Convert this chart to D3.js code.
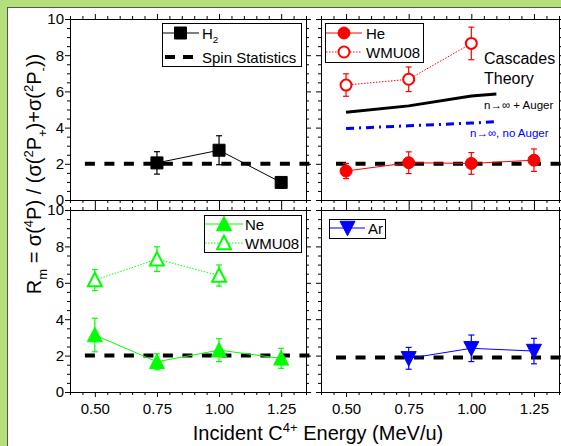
<!DOCTYPE html>
<html><head><meta charset="utf-8">
<script src="https://cdn.jsdelivr.net/npm/d3@7"></script>
<style>
html,body{margin:0;padding:0;background:#b4e07c;}
svg{display:block;font-family:"Liberation Sans",Arial,sans-serif;}
</style></head>
<body>
<svg id="chart" width="561" height="446"></svg>
<script>
// ---------- DATA ----------
const xTickValues = [0.50, 0.75, 1.00, 1.25];
const xTickLabels = ["0.50", "0.75", "1.00", "1.25"];
const yTickValues = [0, 2, 4, 6, 8, 10];
const yTickLabels = ["0", "2", "4", "6", "8", "10"];

const spinStatisticsValue = 2;
const spinStatisticsValueAr = 1.9;
const spinRange = [0.46, 1.37];

const h2Energy = [0.75, 1.00, 1.25];
const h2R      = [2.05, 2.75, 0.97];
const h2Err    = [0.62, 0.80, 0.12];

const heEnergy = [0.50, 0.75, 1.00, 1.25];
const heR      = [1.60, 2.06, 2.02, 2.20];
const heErr    = [0.42, 0.60, 0.60, 0.62];

const heWmuEnergy = [0.50, 0.75, 1.00];
const heWmuR      = [6.35, 6.67, 8.65];
const heWmuErr    = [0.62, 0.68, 0.90];

const cascadeAugerEnergy = [0.50, 0.75, 1.00, 1.10];
const cascadeAugerR      = [4.85, 5.20, 5.75, 5.85];
const cascadeNoAugerEnergy = [0.50, 0.75, 1.00, 1.10];
const cascadeNoAugerR      = [3.95, 4.10, 4.25, 4.33];

const neEnergy = [0.50, 0.75, 1.00, 1.25];
const neR      = [3.13, 1.66, 2.30, 1.85];
const neErr    = [0.92, 0.44, 0.63, 0.55];

const neWmuEnergy = [0.50, 0.75, 1.00];
const neWmuR      = [6.15, 7.30, 6.40];
const neWmuErr    = [0.58, 0.68, 0.58];

const arEnergy = [0.75, 1.00, 1.25];
const arR      = [1.85, 2.40, 2.25];
const arErr    = [0.60, 0.73, 0.70];

// ---------- LAYOUT ----------
const svg = d3.select("#chart");
svg.append("rect").attr("x", 7.5).attr("y", 7.5).attr("width", 600).attr("height", 500)
  .attr("fill", "#fff").attr("stroke", "#555").attr("stroke-width", 1);

const xDomain = [0.4, 1.35];
const yDomain = [0, 10];
const panels = {
  tl: {x0: 70, x1: 306, y0: 19, y1: 200, xLabels: false, yLabels: true},
  tr: {x0: 321, x1: 559, y0: 19, y1: 200, xLabels: false, yLabels: false},
  bl: {x0: 70, x1: 306, y0: 210, y1: 392, xLabels: true, yLabels: true},
  br: {x0: 321, x1: 559, y0: 210, y1: 392, xLabels: true, yLabels: false}
};
const FONT = 15;

function range(a, b, s) { const r = []; for (let v = a; v <= b + 1e-9; v += s) r.push(+v.toFixed(4)); return r; }
const xMinor = range(0.4, 1.35, 0.05).filter(v => !xTickValues.some(t => Math.abs(t - v) < 1e-6));
const yMinor = range(0, 10, 0.5).filter(v => !yTickValues.some(t => Math.abs(t - v) < 1e-6));

function setupPanel(p) {
  p.x = d3.scaleLinear().domain(xDomain).range([p.x0, p.x1]);
  p.y = d3.scaleLinear().domain(yDomain).range([p.y1, p.y0]);
  p.g = svg.append("g");
  const mk = (axisFn, scale, vals, len, labels, fmt) => axisFn(scale).tickValues(vals).tickSizeInner(len).tickSizeOuter(0)
    .tickFormat(labels ? fmt : () => "");
  const xFmt = d => xTickLabels[xTickValues.indexOf(d)];
  const yFmt = d => yTickLabels[yTickValues.indexOf(d)];
  const styleAx = g => { g.select(".domain").attr("stroke", "#000"); g.selectAll("line").attr("stroke", "#000");
    g.selectAll("text").attr("font-size", FONT).attr("fill", "#000").attr("font-family", "Liberation Sans, Arial, sans-serif"); };
  p.g.append("g").attr("transform", `translate(0,${p.y1})`).call(mk(d3.axisBottom, p.x, xTickValues, 5, p.xLabels, xFmt)).call(styleAx)
    .call(g => g.selectAll("text").attr("dy", "0.95em"));
  p.g.append("g").attr("transform", `translate(0,${p.y1})`).call(mk(d3.axisBottom, p.x, xMinor, 3, false)).call(styleAx);
  p.g.append("g").attr("transform", `translate(0,${p.y0})`).call(mk(d3.axisTop, p.x, xTickValues, 5, false)).call(styleAx);
  p.g.append("g").attr("transform", `translate(0,${p.y0})`).call(mk(d3.axisTop, p.x, xMinor, 3, false)).call(styleAx);
  p.g.append("g").attr("transform", `translate(${p.x0},0)`).call(mk(d3.axisLeft, p.y, yTickValues, 5, p.yLabels, yFmt)).call(styleAx)
    .call(g => g.selectAll("text").attr("x", -6));
  p.g.append("g").attr("transform", `translate(${p.x0},0)`).call(mk(d3.axisLeft, p.y, yMinor, 3, false)).call(styleAx);
  p.g.append("g").attr("transform", `translate(${p.x1},0)`).call(mk(d3.axisRight, p.y, yTickValues, 5, false)).call(styleAx);
  p.g.append("g").attr("transform", `translate(${p.x1},0)`).call(mk(d3.axisRight, p.y, yMinor, 3, false)).call(styleAx);
}
Object.values(panels).forEach(setupPanel);

// ---------- helpers ----------
function zip(xs, ys, es) { return xs.map((x, i) => ({x, y: ys[i], e: es ? es[i] : 0})); }

function spinLine(p, val) {
  p.g.append("line").attr("x1", p.x(spinRange[0])).attr("x2", p.x(spinRange[1]))
    .attr("y1", p.y(val)).attr("y2", p.y(val))
    .attr("stroke", "#000").attr("stroke-width", 4).attr("stroke-dasharray", "10,9.5");
}

function symbolPath(type, size) {
  const s = size;
  if (type === "square") return `M${-s/2},${-s/2}h${s}v${s}h${-s}Z`;
  if (type === "circle") return d3.symbol(d3.symbolCircle, Math.PI * (s/2) * (s/2))();
  if (type === "tri") { const h = s * 0.9; return `M0,${-h/2 - 1}L${s/2},${h/2}L${-s/2},${h/2}Z`; }
  if (type === "itri") { const h = s * 0.9; return `M0,${h/2 + 1}L${s/2},${-h/2}L${-s/2},${-h/2}Z`; }
}

function series(p, data, opt) {
  const line = d3.line().x(d => p.x(d.x)).y(d => p.y(d.y));
  p.g.append("path").datum(data).attr("d", line).attr("fill", "none")
    .attr("stroke", opt.color).attr("stroke-width", 1).attr("stroke-dasharray", opt.dotted ? "1.5,1.5" : null);
  const eb = p.g.append("g").attr("stroke", opt.color).attr("stroke-width", 1.2);
  data.forEach(d => {
    if (!d.e) return;
    const cx = p.x(d.x), yt = p.y(d.y + d.e), yb = p.y(d.y - d.e);
    eb.append("line").attr("x1", cx).attr("x2", cx).attr("y1", yt).attr("y2", yb);
    eb.append("line").attr("x1", cx - 3).attr("x2", cx + 3).attr("y1", yt).attr("y2", yt);
    eb.append("line").attr("x1", cx - 3).attr("x2", cx + 3).attr("y1", yb).attr("y2", yb);
  });
  p.g.selectAll(null).data(data).enter().append("path")
    .attr("d", symbolPath(opt.symbol, opt.size))
    .attr("transform", d => `translate(${p.x(d.x)},${p.y(d.y)})`)
    .attr("fill", opt.open ? "#fff" : opt.color)
    .attr("stroke", opt.color).attr("stroke-width", opt.open ? 2 : 1);
}

function richText(sel, parts, fs) {
  let shift = 0;
  parts.forEach(pt => {
    const t = sel.append("tspan").text(pt.t);
    let target = 0, size = fs;
    if (pt.s === "sub") { target = fs * 0.3; size = fs * 0.65; }
    if (pt.s === "sup") { target = -fs * 0.4; size = fs * 0.65; }
    t.attr("dy", target - shift).attr("font-size", size);
    shift = target;
  });
  return sel;
}

function legendBox(x, y, w, h) {
  svg.append("rect").attr("x", x + 0.5).attr("y", y + 0.5).attr("width", w).attr("height", h)
    .attr("fill", "#fff").attr("stroke", "#000").attr("stroke-width", 1);
}
function legendEntry(x0, x1, y, opt, label, textX, parts) {
  svg.append("line").attr("x1", x0).attr("x2", x1).attr("y1", y).attr("y2", y)
    .attr("stroke", opt.color).attr("stroke-width", opt.width || 1)
    .attr("stroke-dasharray", opt.dash || (opt.dotted ? "1.5,1.5" : null));
  if (opt.symbol) svg.append("path").attr("d", symbolPath(opt.symbol, opt.size))
    .attr("transform", `translate(${(x0 + x1) / 2},${y})`)
    .attr("fill", opt.open ? "#fff" : opt.color).attr("stroke", opt.color).attr("stroke-width", opt.open ? 2 : 1);
  const t = svg.append("text").attr("x", textX).attr("y", y + 5.5).attr("font-size", FONT).attr("fill", "#000");
  if (parts) richText(t, parts, FONT); else t.text(label);
}

// ---------- PANELS ----------
const RED = "#ff0000", GREEN = "#00ff00", BLUE = "#0000ff";
spinLine(panels.tl, spinStatisticsValue);
series(panels.tl, zip(h2Energy, h2R, h2Err), {color: "#000", symbol: "square", size: 12});
legendBox(162, 23, 139, 43);
legendEntry(162, 199, 33, {color: "#000", symbol: "square", size: 12}, null, 202, [{t: "H"}, {t: "2", s: "sub"}]);
legendEntry(165, 193, 57, {color: "#000", width: 4, dash: "10,8"}, "Spin Statistics", 202);

const tr = panels.tr;
spinLine(tr, spinStatisticsValue);
tr.g.append("path").datum(zip(cascadeAugerEnergy, cascadeAugerR))
  .attr("d", d3.line().x(d => tr.x(d.x)).y(d => tr.y(d.y))).attr("fill", "none")
  .attr("stroke", "#000").attr("stroke-width", 3);
tr.g.append("path").datum(zip(cascadeNoAugerEnergy, cascadeNoAugerR))
  .attr("d", d3.line().x(d => tr.x(d.x)).y(d => tr.y(d.y))).attr("fill", "none")
  .attr("stroke", BLUE).attr("stroke-width", 3).attr("stroke-dasharray", "8,5,2,5");
series(tr, zip(heWmuEnergy, heWmuR, heWmuErr), {color: RED, symbol: "circle", size: 11, open: true, dotted: true});
series(tr, zip(heEnergy, heR, heErr), {color: RED, symbol: "circle", size: 12});
legendBox(325, 23, 98, 39);
legendEntry(326, 362, 33, {color: RED, symbol: "circle", size: 12}, "He", 366);
legendEntry(326, 362, 52, {color: RED, symbol: "circle", size: 11, open: true, dotted: true}, "WMU08", 366);
svg.append("text").attr("x", 484).attr("y", 64).attr("font-size", 16).attr("fill", "#000").text("Cascades");
svg.append("text").attr("x", 484).attr("y", 84).attr("font-size", 16).attr("fill", "#000").text("Theory");
svg.append("text").attr("x", 484).attr("y", 109).attr("font-size", 11.5).attr("fill", "#000").text("n→∞ + Auger");
svg.append("text").attr("x", 470).attr("y", 137).attr("font-size", 11.5).attr("fill", BLUE).text("n→∞, no Auger");

spinLine(panels.bl, spinStatisticsValue);
series(panels.bl, zip(neWmuEnergy, neWmuR, neWmuErr), {color: GREEN, symbol: "tri", size: 14, open: true, dotted: true});
series(panels.bl, zip(neEnergy, neR, neErr), {color: GREEN, symbol: "tri", size: 15});
legendBox(204, 215, 97, 37);
legendEntry(205, 243, 224, {color: GREEN, symbol: "tri", size: 15}, "Ne", 245);
legendEntry(205, 243, 243, {color: GREEN, symbol: "tri", size: 14, open: true, dotted: true}, "WMU08", 245);

spinLine(panels.br, spinStatisticsValueAr);
series(panels.br, zip(arEnergy, arR, arErr), {color: BLUE, symbol: "itri", size: 15});
legendBox(329, 219, 56, 19);
legendEntry(330, 365, 228, {color: BLUE, symbol: "itri", size: 15}, "Ar", 368);

// ---------- AXIS TITLES ----------
const yTitle = svg.append("text").attr("transform", "translate(41,174) rotate(-90)")
  .attr("text-anchor", "middle").attr("font-size", 20).attr("fill", "#000");
richText(yTitle, [
  {t: "R"}, {t: "m", s: "sub"}, {t: " = σ("}, {t: "4", s: "sup"}, {t: "P) / (σ("}, {t: "2", s: "sup"}, {t: "P"},
  {t: "+", s: "sub"}, {t: ")+σ("}, {t: "2", s: "sup"}, {t: "P"}, {t: "-", s: "sub"}, {t: "))"}
], 20);
const xTitle = svg.append("text").attr("x", 318).attr("y", 440)
  .attr("text-anchor", "middle").attr("font-size", 20).attr("fill", "#000");
richText(xTitle, [{t: "Incident C"}, {t: "4+", s: "sup"}, {t: " Energy (MeV/u)"}], 20);
</script>
</body></html>
